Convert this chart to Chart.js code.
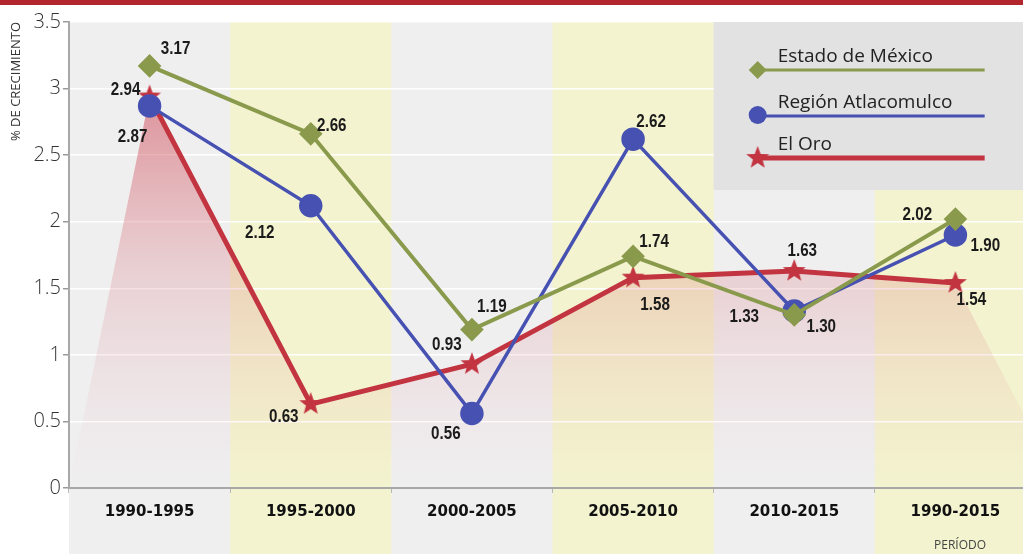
<!DOCTYPE html>
<html lang="es">
  <head>
    <meta charset="UTF-8" />
    <title>% de crecimiento por período</title>
    <script src="https://cdn.jsdelivr.net/npm/chart.js@4.4.1/dist/chart.umd.min.js"></script>
    <style>
      body { margin: 0; background: #fff; overflow: hidden; }
    </style>
  </head>
  <body>
    <canvas id="myChart" width="1053" height="554"></canvas>

    <script>
      // datos
      const periodos = ["1990-1995", "1995-2000", "2000-2005", "2005-2010", "2010-2015", "1990-2015"];
      const estadoMexico = [3.17, 2.66, 1.19, 1.74, 1.30, 2.02];
      const regionAtlacomulco = [2.87, 2.12, 0.56, 2.62, 1.33, 1.90];
      const elOro = [2.94, 0.63, 0.93, 1.58, 1.63, 1.54];
      const yTicks = [0, 0.5, 1, 1.5, 2, 2.5, 3, 3.5];

      const GREEN = "#8a9a4c";
      const BLUE = "#4651b2";
      const RED = "#c23440";

      // estrella de 5 puntas para El Oro
      function makeStar(r, color) {
        const c = document.createElement("canvas");
        c.width = c.height = r * 2 + 2;
        const g = c.getContext("2d");
        g.fillStyle = color;
        g.beginPath();
        for (let i = 0; i < 10; i++) {
          const rad = i % 2 === 0 ? r : r * 0.42;
          const a = -Math.PI / 2 + (i * Math.PI) / 5;
          g.lineTo(r + 1 + rad * Math.cos(a), r + 1 + rad * Math.sin(a));
        }
        g.closePath();
        g.fill();
        return c;
      }
      const star = makeStar(12, RED);

      // desplazamiento de cada etiqueta respecto a su punto
      const labelOffsets = [
        [[26, -17], [21, -8], [20, -23], [21, -15], [27, 12], [-38, -4]],
        [[-17, 31], [-51, 27], [-26, 20], [18, -17], [-50, 6], [30, 11]],
        [[-24, -7], [-27, 13], [-25, -19], [22, 27], [8, -20], [16, 17]],
      ];

      const backgrounds = {
        id: "backgrounds",
        beforeDraw(chart) {
          const { ctx, chartArea, scales } = chart;
          const xs = scales.x;
          const w = xs.width / periodos.length;
          ctx.save();
          ctx.fillStyle = "#b3262e";
          ctx.fillRect(0, 0, chart.width, 5);
          periodos.forEach((p, i) => {
            ctx.fillStyle = i % 2 ? "#f3f3cf" : "#efeff0";
            ctx.fillRect(xs.left + i * w, chartArea.top, w + 0.5, chart.height - chartArea.top);
          });
          ctx.restore();
        },
        beforeDatasetsDraw(chart) {
          const { ctx, chartArea, scales } = chart;
          const xs = scales.x;
          const w = xs.width / periodos.length;
          ctx.save();
          // caja de la leyenda
          ctx.fillStyle = "#e2e2e3";
          ctx.fillRect(xs.left + 4 * w, chartArea.top, chart.width - (xs.left + 4 * w), 168);
          // área roja bajo El Oro
          const pts = chart.getDatasetMeta(2).data;
          const grad = ctx.createLinearGradient(0, chartArea.top + 60, 0, chartArea.bottom);
          grad.addColorStop(0, "rgba(205,60,75,0.55)");
          grad.addColorStop(0.45, "rgba(210,90,100,0.22)");
          grad.addColorStop(1, "rgba(230,150,160,0)");
          ctx.fillStyle = grad;
          ctx.beginPath();
          ctx.moveTo(chartArea.left, chartArea.bottom);
          pts.forEach((p) => ctx.lineTo(p.x, p.y));
          ctx.lineTo(chartArea.right, chartArea.bottom - 50);
          ctx.lineTo(chartArea.right, chartArea.bottom);
          ctx.closePath();
          ctx.fill();
          ctx.restore();
        },
        afterDraw(chart) {
          const { ctx, chartArea, scales } = chart;
          const xs = scales.x;
          const w = xs.width / periodos.length;
          ctx.save();
          // etiquetas de valores (letra condensada)
          ctx.font = "bold 19px 'Liberation Sans', sans-serif";
          ctx.fillStyle = "#1b1b1b";
          ctx.textAlign = "center";
          ctx.textBaseline = "middle";
          chart.data.datasets.forEach((ds, d) => {
            chart.getDatasetMeta(d).data.forEach((p, i) => {
              const [dx, dy] = labelOffsets[d][i];
              ctx.save();
              ctx.translate(p.x + dx, p.y + dy);
              ctx.scale(0.8, 1);
              ctx.fillText(ds.data[i].toFixed(2), 0, 0);
              ctx.restore();
            });
          });
          // leyenda
          const lx = xs.left + 4 * w + 44;
          const rx = lx + 227;
          const items = [
            { text: "Estado de México", color: GREEN, lw: 3, y: chartArea.top + 48 },
            { text: "Región Atlacomulco", color: BLUE, lw: 3, y: chartArea.top + 94 },
            { text: "El Oro", color: RED, lw: 5, y: chartArea.top + 136 },
          ];
          ctx.font = "19px 'Open Sans', sans-serif";
          ctx.textAlign = "left";
          ctx.textBaseline = "alphabetic";
          items.forEach((it, k) => {
            ctx.strokeStyle = it.color;
            ctx.lineWidth = it.lw;
            ctx.beginPath();
            ctx.moveTo(lx, it.y);
            ctx.lineTo(rx, it.y);
            ctx.stroke();
            ctx.fillStyle = it.color;
            if (k === 0) {
              ctx.beginPath();
              ctx.moveTo(lx, it.y - 9);
              ctx.lineTo(lx + 9, it.y);
              ctx.lineTo(lx, it.y + 9);
              ctx.lineTo(lx - 9, it.y);
              ctx.closePath();
              ctx.fill();
            } else if (k === 1) {
              ctx.beginPath();
              ctx.arc(lx, it.y - 1, 9, 0, Math.PI * 2);
              ctx.fill();
            } else {
              ctx.drawImage(star, lx - 13, it.y - 13);
            }
            ctx.fillStyle = "#222";
            ctx.fillText(it.text, lx + 20, it.y - 8);
          });
          // nota del eje x
          ctx.font = "12px 'Open Sans', sans-serif";
          ctx.fillStyle = "#444";
          ctx.textAlign = "center";
          ctx.fillText("PERÍODO", 960, 549);
          ctx.restore();
        },
      };

      const ctx = document.getElementById("myChart").getContext("2d");
      const myChart = new Chart(ctx, {
        type: "line",
        data: {
          labels: periodos,
          datasets: [
            {
              label: "Estado de México",
              data: estadoMexico,
              borderColor: GREEN,
              backgroundColor: GREEN,
              borderWidth: 4,
              pointStyle: "rectRot",
              pointRadius: 9,
              fill: false,
            },
            {
              label: "Región Atlacomulco",
              data: regionAtlacomulco,
              borderColor: BLUE,
              backgroundColor: BLUE,
              borderWidth: 3.5,
              pointStyle: "circle",
              pointRadius: 10,
              fill: false,
            },
            {
              label: "El Oro",
              data: elOro,
              borderColor: RED,
              backgroundColor: RED,
              borderWidth: 5,
              pointStyle: star,
              pointRadius: 12,
              fill: false,
            },
          ],
        },
        options: {
          responsive: false,
          animation: false,
          layout: { padding: { top: 22, right: 0, left: 0, bottom: 0 } },
          plugins: { legend: { display: false }, tooltip: { enabled: false } },
          scales: {
            x: {
              offset: true,
              grid: { drawOnChartArea: false, offset: true, tickLength: 5, color: "#b8b8b8" },
              border: { color: "#a8a8a8", width: 2 },
              ticks: {
                color: "#111",
                padding: 10,
                font: { family: "'DejaVu Sans', sans-serif", weight: "bold", size: 15 },
              },
              afterFit: (s) => { s.height = 66; },
            },
            y: {
              min: 0,
              max: 3.5,
              afterBuildTicks: (s) => { s.ticks = yTicks.map((v) => ({ value: v })); },
              ticks: {
                color: "#333",
                padding: 2,
                font: { family: "'Open Sans', sans-serif", size: 20, weight: "300" },
                callback: (v) => String(v),
              },
              grid: { color: "rgba(255,255,255,0.95)", lineWidth: 1.5, tickColor: "#9a9a9a", tickLength: 6 },
              border: { color: "#a8a8a8", width: 2 },
              title: {
                display: true,
                text: "% DE CRECIMIENTO",
                align: "end",
                color: "#333",
                font: { family: "'Open Sans', sans-serif", size: 13 },
                padding: { top: 8, bottom: 0 },
              },
              afterFit: (s) => { s.width = 69; },
            },
          },
        },
        plugins: [backgrounds],
      });
    </script>
  </body>
</html>
